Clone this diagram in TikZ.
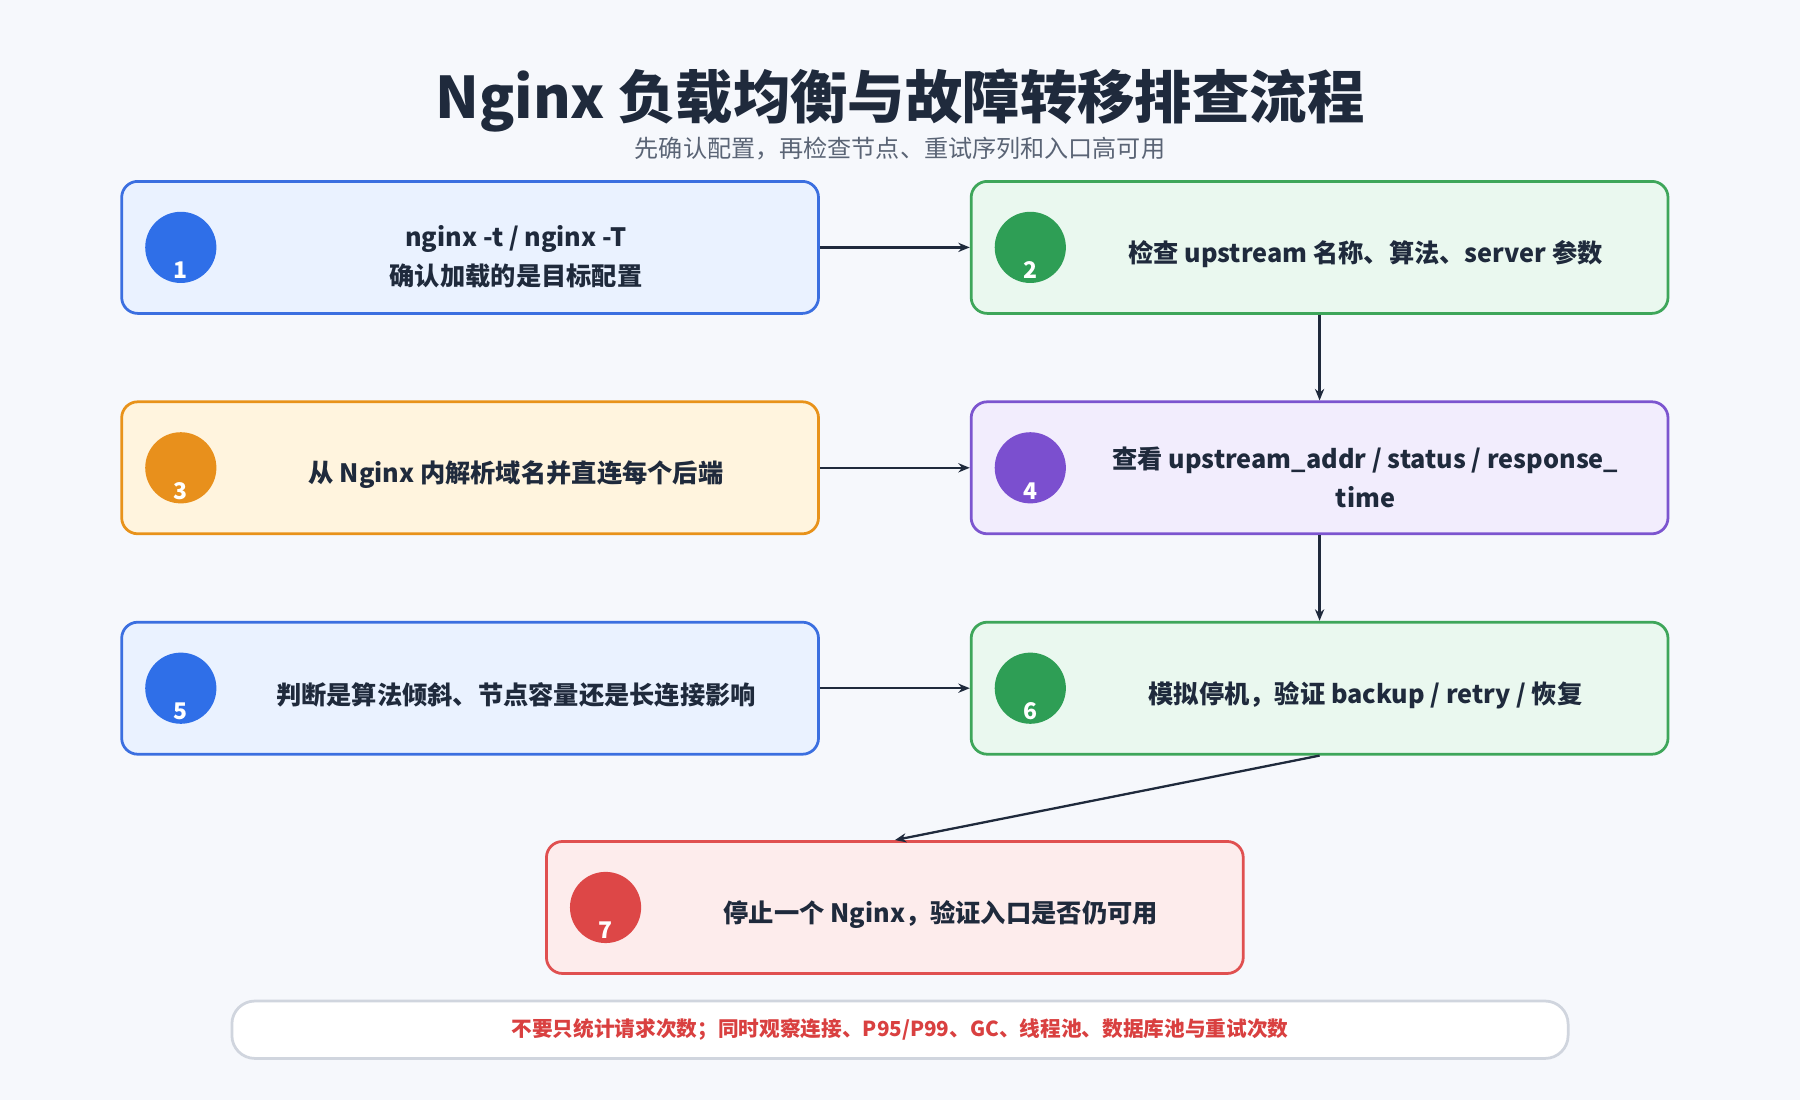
\documentclass[tikz,border=0pt]{standalone}
\usepackage{fontspec}
\setmainfont{Noto Sans CJK SC}
\usetikzlibrary{positioning,arrows.meta}
\definecolor{bgc}{HTML}{F6F8FC}
\definecolor{ink}{HTML}{1F2A3C}
\definecolor{subc}{HTML}{5A6475}
\definecolor{blueB}{HTML}{3B6FE0}\definecolor{blueF}{HTML}{EAF2FF}\definecolor{blueC}{HTML}{2F6FE8}
\definecolor{greenB}{HTML}{3EA65A}\definecolor{greenF}{HTML}{EAF8EF}\definecolor{greenC}{HTML}{2E9E55}
\definecolor{orangeB}{HTML}{E8921A}\definecolor{orangeF}{HTML}{FFF4DE}\definecolor{orangeC}{HTML}{E8901C}
\definecolor{purpleB}{HTML}{7C55CF}\definecolor{purpleF}{HTML}{F2EDFD}\definecolor{purpleC}{HTML}{7B4FCF}
\definecolor{redB}{HTML}{E05050}\definecolor{redF}{HTML}{FDECEC}\definecolor{redC}{HTML}{DD4747}
\definecolor{noteB}{HTML}{D0D5DE}\definecolor{noteT}{HTML}{D94040}
\tikzset{
  box/.style={draw=#1B, fill=#1F, line width=1.2pt, rounded corners=7pt,
    minimum width=303.5pt, minimum height=57.5pt},
  dot/.style={circle, fill=#1C, minimum size=31pt, inner sep=0pt},
  num/.style={text=white, font=\bfseries\fontsize{10}{12}\selectfont},
  txt/.style={text=ink, align=center, font=\bfseries\fontsize{11}{17}\selectfont},
  flow/.style={-{Stealth[length=5pt,width=4pt]}, ink, line width=1pt},
}
\begin{document}
\begin{tikzpicture}[x=0.5pt,y=-0.5pt]
  \useasboundingbox[fill=bgc] (0,0) rectangle (1568,958);
  % title
  \node[text=ink, font=\bfseries\fontsize{25}{30}\selectfont] (title) at (784,88) {Nginx 负载均衡与故障转移排查流程};
  \node[text=subc, font=\fontsize{10.5}{12}\selectfont] (sub) at (784,129) {先确认配置，再检查节点、重试序列和入口高可用};
  % boxes
  \node[box=blue]   (s1) at (409.5,215.5) {};
  \node[box=green]  (s2) at (1149.5,215.5) {};
  \node[box=orange] (s3) at (409.5,407.5) {};
  \node[box=purple] (s4) at (1149.5,407.5) {};
  \node[box=blue]   (s5) at (409.5,599.5) {};
  \node[box=green]  (s6) at (1149.5,599.5) {};
  \node[box=red]    (s7) at (779.5,790.5) {};
  % badges
  \foreach \i/\c in {1/blue,2/green,3/orange,4/purple,5/blue,6/green,7/red}{
    \node[dot=\c] (c\i) at ([xshift=-126pt]s\i.center) {};
    \node[num] (n\i) at ([yshift=-10pt]c\i.center) {\i};
  }
  % texts
  \node[txt] (t1) at ([xshift=20pt,yshift=-4pt]s1.center) {nginx -t / nginx -T\\确认加载的是目标配置};
  \node[txt] (t2) at ([xshift=20pt,yshift=-3pt]s2.center) {检查 upstream 名称、算法、server 参数};
  \node[txt] (t3) at ([xshift=20pt,yshift=-3pt]s3.center) {从 Nginx 内解析域名并直连每个后端};
  \node[txt] (t4) at ([xshift=20pt,yshift=-4pt]s4.center) {查看 upstream\_addr / status / response\_\\time};
  \node[txt] (t5) at ([xshift=20pt,yshift=-3pt]s5.center) {判断是算法倾斜、节点容量还是长连接影响};
  \node[txt] (t6) at ([xshift=20pt,yshift=-3pt]s6.center) {模拟停机，验证 backup / retry / 恢复};
  \node[txt] (t7) at ([xshift=20pt,yshift=-3pt]s7.center) {停止一个 Nginx，验证入口是否仍可用};
  % connectors
  \draw[flow] (s1.east) -- (s2.west);
  \draw[flow] (s2.south) -- (s4.north);
  \draw[flow] (s3.east) -- (s4.west);
  \draw[flow] (s4.south) -- (s6.north);
  \draw[flow] (s5.east) -- (s6.west);
  \draw[flow] (s6.south) -- (s7.north);
  % note
  \node[draw=noteB, fill=white, line width=1.2pt, rounded corners=10pt,
    minimum width=582pt, minimum height=25pt, text=noteT,
    font=\bfseries\fontsize{9}{11}\selectfont] (note) at (784,897)
    {不要只统计请求次数；同时观察连接、P95/P99、GC、线程池、数据库池与重试次数};
\end{tikzpicture}
\end{document}
